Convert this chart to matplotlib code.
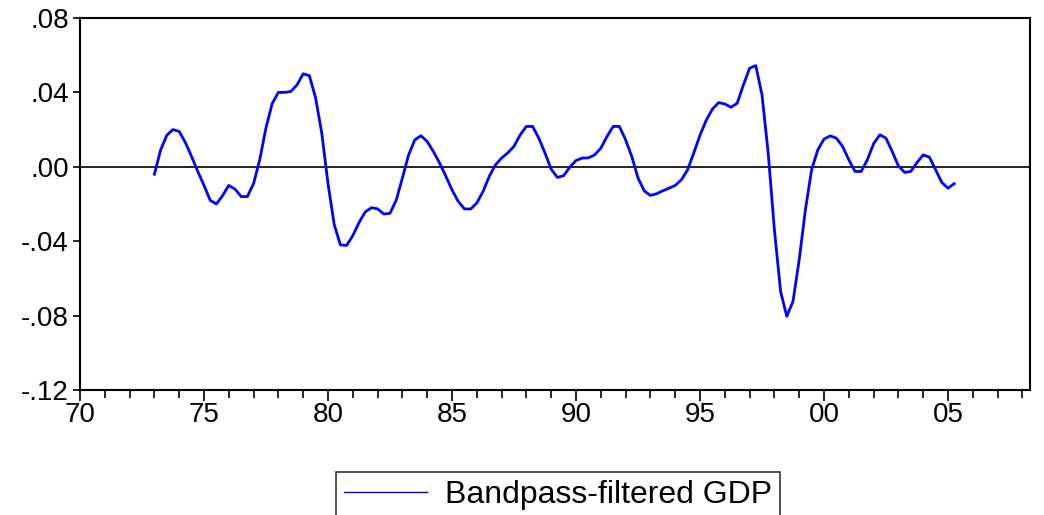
import numpy as np
import matplotlib
matplotlib.use("Agg")
import matplotlib.pyplot as plt
from matplotlib.ticker import FixedLocator, FuncFormatter, MultipleLocator

# quarterly, 1973Q1 .. 2005Q2
start_year = 1973.0
gdp_bp = [
    -0.004, 0.009, 0.017, 0.020,
    0.019, 0.013, 0.0055, -0.0025,
    -0.010, -0.018, -0.020, -0.0155,
    -0.010, -0.012, -0.016, -0.016,
    -0.009, 0.004, 0.021, 0.034,
    0.040, 0.040, 0.0405, 0.044,
    0.050, 0.049, 0.037, 0.018,
    -0.009, -0.031, -0.042, -0.0423,
    -0.037, -0.030, -0.0243, -0.022,
    -0.0226, -0.0254, -0.025, -0.018,
    -0.006, 0.0064, 0.0145, 0.0167,
    0.0136, 0.0082, 0.002, -0.005,
    -0.0124, -0.0186, -0.0226, -0.0227,
    -0.0195, -0.0133, -0.0052, 0.001,
    0.0047, 0.0075, 0.011, 0.0172,
    0.0217, 0.0217, 0.0154, 0.0074,
    -0.0013, -0.0057, -0.0048, -0.0002,
    0.0034, 0.0047, 0.0048, 0.0064,
    0.010, 0.0163, 0.0217, 0.0217,
    0.0145, 0.0055, -0.006, -0.0129,
    -0.0154, -0.0145, -0.0129, -0.0115,
    -0.010, -0.007, -0.0016, 0.0075,
    0.017, 0.025, 0.031, 0.0345,
    0.0338, 0.032, 0.0342, 0.044,
    0.053, 0.0544, 0.0387, 0.0074,
    -0.0338, -0.067, -0.0804, -0.0723,
    -0.050, -0.0231, -0.0016, 0.0091,
    0.0149, 0.0166, 0.0154, 0.0109,
    0.0038, -0.0025, -0.0025, 0.0038,
    0.0124, 0.0172, 0.0154, 0.0082,
    0.0005, -0.003, -0.0025, 0.0023,
    0.0064, 0.0052, -0.0016, -0.0084,
    -0.0115, -0.0091,
]
year_ticks = [1970, 1975, 1980, 1985, 1990, 1995, 2000, 2005]
y_ticks = [-0.12, -0.08, -0.04, 0.00, 0.04, 0.08]
series_label = "Bandpass-filtered GDP"

plt.rcParams['font.family'] = ['Liberation Sans', 'DejaVu Sans']

t = start_year + np.arange(len(gdp_bp)) / 4.0

fig = plt.figure(figsize=(10.44, 5.15), dpi=100)
ax = fig.add_axes([80 / 1044, 1 - 390 / 515, (1030 - 80) / 1044, (390 - 18) / 515])

line, = ax.plot(t, gdp_bp, color="#0000ff", lw=2.0, label=series_label)
ax.axhline(0, color="black", lw=1.2, zorder=1)

ax.set_xlim(1970, 1970 + (1030 - 80) / 24.8)
ax.set_ylim(-0.12, 0.08)

ax.xaxis.set_major_locator(FixedLocator(year_ticks))
ax.xaxis.set_minor_locator(MultipleLocator(1))
ax.xaxis.set_major_formatter(FuncFormatter(lambda v, p: "%02d" % (int(round(v)) % 100)))

def yfmt(v, p):
    s = "%.2f" % v
    if s.startswith("-0"):
        s = "-" + s[2:]
    elif s.startswith("0"):
        s = s[1:]
    return s

ax.yaxis.set_major_locator(FixedLocator(y_ticks))
ax.yaxis.set_major_formatter(FuncFormatter(yfmt))

for sp in ax.spines.values():
    sp.set_linewidth(1.5)
ax.tick_params(axis="both", which="major", direction="out", width=1.2, labelsize=20, color="black")
ax.tick_params(axis="x", which="major", length=8, pad=1)
ax.tick_params(axis="x", which="minor", length=6, width=1.2)
ax.tick_params(axis="y", which="major", length=5, pad=3)

leg = fig.legend(handles=[line], loc="upper center", bbox_to_anchor=(558 / 1044, 1 - 472 / 515),
                 frameon=True, fancybox=False, fontsize=23, handlelength=2.6,
                 borderpad=0.25, borderaxespad=0, handletextpad=0.55)
leg.get_frame().set_edgecolor("black")
leg.get_frame().set_linewidth(1.2)
leg.get_lines()[0].set_linewidth(1.0)

fig.savefig("out.png", dpi=100)
